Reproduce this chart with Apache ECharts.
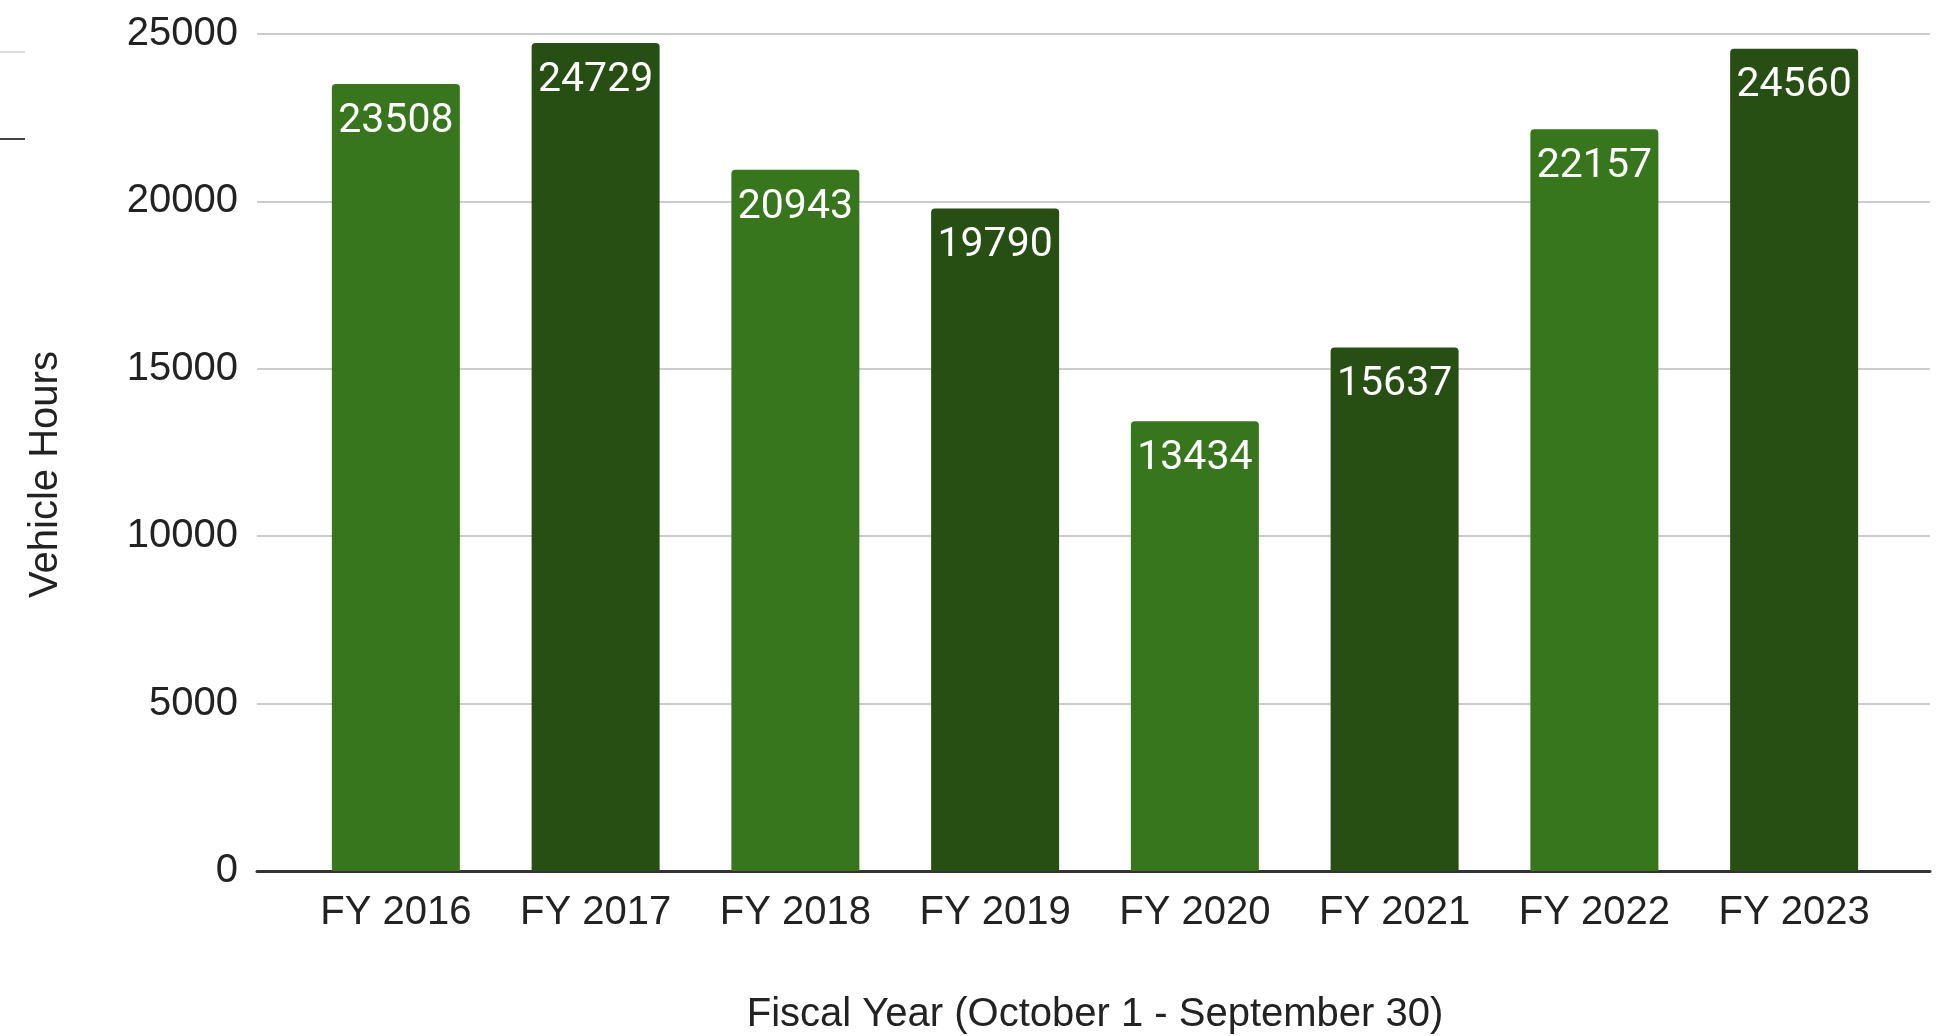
<!DOCTYPE html>
<html lang="en">
<head>
    <meta charset="UTF-8">
    <title>Vehicle Hours by Fiscal Year</title>
    <script src="https://cdn.jsdelivr.net/npm/echarts@6/dist/echarts.min.js"></script>
    <style>
        html, body { margin: 0; padding: 0; background: #fff; }
        #chart { width: 1940px; height: 1036px; }
    </style>
</head>
<body>
<div id="chart"></div>
<script type="text/javascript">
    // data
    var years = ['FY 2016', 'FY 2017', 'FY 2018', 'FY 2019', 'FY 2020', 'FY 2021', 'FY 2022', 'FY 2023'];
    var hours = [23508, 24729, 20943, 19790, 13434, 15637, 22157, 24560];
    var yTicks = [0, 5000, 10000, 15000, 20000, 25000];

    var lightGreen = '#38761d';
    var darkGreen = '#274e13';
    var txt = '#222222';
    var axisFont = '"Liberation Sans", Arial, sans-serif';

    var chart = echarts.init(document.getElementById('chart'));

    chart.setOption({
        backgroundColor: '#ffffff',
        animation: false,
        // bits of a cut-off legend on the left edge
        graphic: [
            { type: 'line', shape: { x1: 0, y1: 52, x2: 25, y2: 52 }, style: { stroke: '#dddddd', lineWidth: 2 } },
            { type: 'line', shape: { x1: 0, y1: 139, x2: 25, y2: 139 }, style: { stroke: '#444444', lineWidth: 2 } }
        ],
        grid: [
            // gridlines + baseline, a bit wider than the bars
            { left: 257, right: 10, top: 34, bottom: 165, outerBoundsMode: 'none' },
            // bars
            { left: 296, right: 46, top: 34, bottom: 165, outerBoundsMode: 'none' }
        ],
        xAxis: [{
            gridIndex: 0,
            type: 'value',
            min: 0,
            max: 1,
            axisLine: { show: true, lineStyle: { color: '#333333', width: 3 } },
            axisTick: { show: false },
            axisLabel: { show: false },
            splitLine: { show: false }
        }, {
            gridIndex: 1,
            type: 'category',
            data: years,
            axisLine: { show: false },
            axisTick: { show: false },
            axisLabel: { fontSize: 40, color: txt, fontFamily: axisFont, margin: 22 },
            name: 'Fiscal Year (October 1 - September 30)',
            nameLocation: 'middle',
            nameGap: 124,
            nameTextStyle: { fontSize: 40, color: txt, fontFamily: axisFont }
        }],
        yAxis: [{
            gridIndex: 0,
            type: 'value',
            min: yTicks[0],
            max: yTicks[yTicks.length - 1],
            interval: yTicks[1] - yTicks[0],
            axisLine: { show: false },
            axisTick: { show: false },
            axisLabel: {
                fontSize: 40, color: txt, fontFamily: axisFont, margin: 19,
                formatter: function (v) { return String(v); }
            },
            splitLine: { lineStyle: { color: '#cccccc', width: 2 } },
            name: 'Vehicle Hours',
            nameLocation: 'middle',
            nameGap: 191,
            nameTextStyle: { fontSize: 40, color: txt, fontFamily: axisFont, padding: [0, 44, 0, 0] }
        }, {
            gridIndex: 1,
            type: 'value',
            min: yTicks[0],
            max: yTicks[yTicks.length - 1],
            show: false
        }],
        series: [{
            name: 'Vehicle Hours',
            type: 'bar',
            xAxisIndex: 1,
            yAxisIndex: 1,
            barWidth: 128,
            data: hours,
            itemStyle: {
                borderRadius: [4, 4, 0, 0],
                color: function (p) {
                    return p.dataIndex % 2 === 0 ? lightGreen : darkGreen;
                }
            },
            label: {
                show: true,
                position: 'insideTop',
                distance: 17,
                color: '#ffffff',
                fontSize: 41,
                fontFamily: 'Roboto, sans-serif'
            }
        }]
    });
</script>
</body>
</html>
